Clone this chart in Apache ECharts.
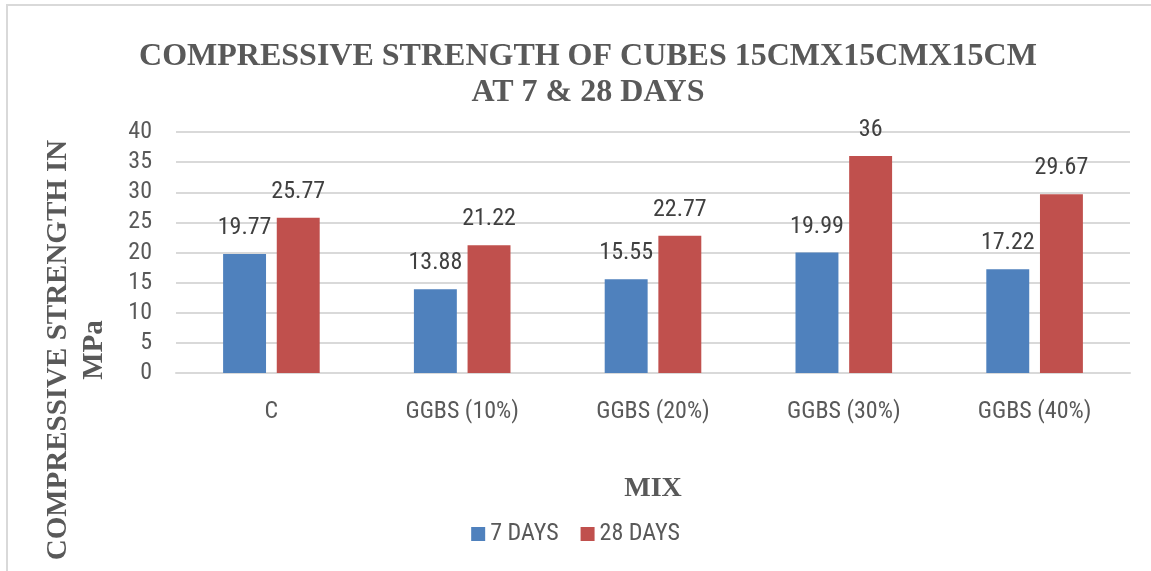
<!DOCTYPE html>
<html>
<head>
<meta charset="utf-8">
<script src="https://cdn.jsdelivr.net/npm/echarts@6/dist/echarts.min.js"></script>
<style>
    html, body { margin: 0; padding: 0; background: #fff; }
    #chart { width: 1151px; height: 571px; }
</style>
</head>
<body>
<div id="chart"></div>
<script>
var mixes = ['C', 'GGBS (10%)', 'GGBS (20%)', 'GGBS (30%)', 'GGBS (40%)'];
var days7 = [19.77, 13.88, 15.55, 19.99, 17.22];
var days28 = [25.77, 21.22, 22.77, 36, 29.67];
var seriesNames = ['7 DAYS', '28 DAYS'];
var yTicks = [0, 5, 10, 15, 20, 25, 30, 35, 40];

var serif = '"Liberation Serif", "DejaVu Serif", serif';
var narrow = '"Roboto Condensed", Roboto, sans-serif';

var myChart = echarts.init(document.getElementById('chart'));

var barLabel = {
    show: true,
    position: 'top',
    distance: 14,
    fontFamily: narrow,
    fontSize: 24,
    color: '#404040'
};

option = {
    backgroundColor: '#fff',
    animation: false,
    title: {
        text: 'COMPRESSIVE STRENGTH OF CUBES 15CMX15CMX15CM\nAT 7 & 28 DAYS',
        left: 583,
        textAlign: 'center',
        top: 34,
        textStyle: {
            fontFamily: serif,
            fontWeight: 'bold',
            fontSize: 32,
            lineHeight: 36,
            color: '#595959'
        }
    },
    legend: {
        data: seriesNames,
        bottom: 20,
        left: 'center',
        itemWidth: 14,
        itemHeight: 14,
        itemGap: 22,
        icon: 'rect',
        textStyle: {
            fontFamily: narrow,
            fontSize: 24,
            color: '#595959'
        }
    },
    graphic: [
        {
            type: 'rect',
            shape: { x: 7, y: 5, width: 1160, height: 580 },
            style: { fill: 'none', stroke: '#d9d9d9', lineWidth: 2 },
            silent: true
        },
        {
            type: 'text',
            x: 77,
            y: 350,
            rotation: Math.PI / 2,
            style: {
                text: 'COMPRESSIVE STRENGTH IN\nMPa',
                fontFamily: serif,
                fontWeight: 'bold',
                fontSize: 29,
                lineHeight: 36,
                fill: '#595959',
                align: 'center',
                verticalAlign: 'middle'
            }
        }
    ],
    grid: {
        left: 176,
        right: 21,
        top: 132,
        bottom: 198
    },
    xAxis: {
        type: 'category',
        data: mixes,
        name: 'MIX',
        nameLocation: 'middle',
        nameGap: 102,
        nameTextStyle: {
            fontFamily: serif,
            fontWeight: 'bold',
            fontSize: 28,
            color: '#595959'
        },
        axisLine: { lineStyle: { color: '#d9d9d9', width: 2 } },
        axisTick: { show: false },
        axisLabel: {
            margin: 27,
            fontFamily: narrow,
            fontSize: 24,
            color: '#595959'
        }
    },
    yAxis: {
        type: 'value',
        min: yTicks[0],
        max: yTicks[yTicks.length - 1],
        interval: yTicks[1] - yTicks[0],
        axisLine: { show: false },
        axisTick: { show: false },
        splitLine: { lineStyle: { color: '#d9d9d9', width: 2 } },
        axisLabel: {
            margin: 24,
            fontFamily: narrow,
            fontSize: 24,
            color: '#595959'
        }
    },
    series: [
        {
            name: seriesNames[0],
            type: 'bar',
            data: days7,
            barWidth: '22.5%',
            barGap: '25%',
            itemStyle: { color: '#4F81BD' },
            label: barLabel
        },
        {
            name: seriesNames[1],
            type: 'bar',
            data: days28,
            barWidth: '22.5%',
            barGap: '25%',
            itemStyle: { color: '#C0504D' },
            label: barLabel
        }
    ]
};

if (option && typeof option === "object") {
    myChart.setOption(option, true);
}
</script>
</body>
</html>
